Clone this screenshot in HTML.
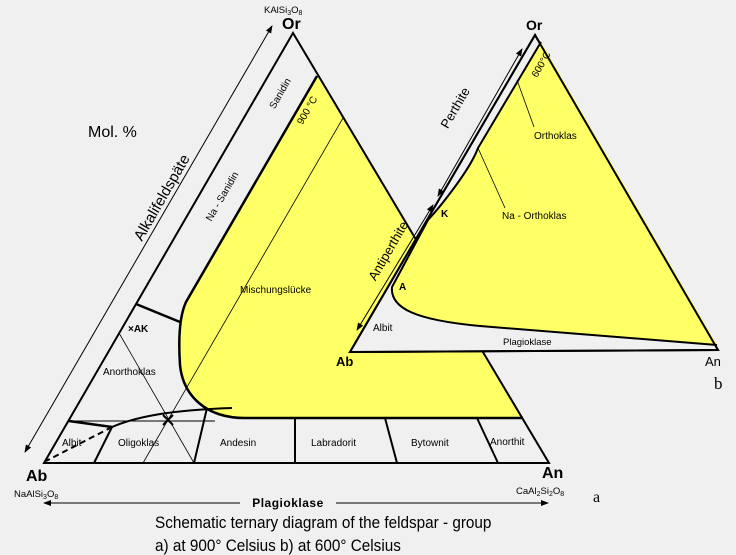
<!DOCTYPE html>
<html><head><meta charset="utf-8"><style>
html,body{margin:0;padding:0;background:#f0f0f0;}
svg{display:block;font-family:"Liberation Sans",sans-serif;}
</style></head><body>
<svg width="736" height="555" viewBox="0 0 736 555" xmlns="http://www.w3.org/2000/svg">
<defs>
<marker id="ah" markerWidth="8" markerHeight="6" refX="7" refY="3" orient="auto"><path d="M0,0 L8,3 L0,6 Z" fill="#000"/></marker>
<marker id="as" markerWidth="8" markerHeight="6" refX="1" refY="3" orient="auto"><path d="M8,0 L0,3 L8,6 Z" fill="#000"/></marker>
</defs>
<rect width="736" height="555" fill="#f0f0f0"/>
<!-- Triangle a -->
<path d="M317,76 L186,302 C180,315 178,335 180,365 C183,395 205,418 245,418 L523,418 Z" fill="#ffff66"/>
<path d="M317,76 L186,302 C180,315 178,335 180,365 C183,395 205,418 245,418 L523,418" fill="none" stroke="#000" stroke-width="2.5"/>
<path d="M293,33 L44,463 L549,463 Z" fill="none" stroke="#000" stroke-width="2"/>
<!-- alkali arrow -->
<line x1="25" y1="452" x2="272" y2="26" stroke="#000" stroke-width="1" marker-start="url(#as)" marker-end="url(#ah)"/>
<!-- internal lines a -->
<line x1="69" y1="421" x2="215" y2="421" stroke="#000" stroke-width="1"/>
<path d="M69,421 L112,427" stroke="#000" stroke-width="2.5"/>
<path d="M112,427 L46,461" stroke="#000" stroke-width="2" stroke-dasharray="6,4"/>
<path d="M112,427 C135,417 170,410 232,408" fill="none" stroke="#000" stroke-width="2"/>
<path d="M112,427 L94,463 M207,408 L194,463 M295,418 L295,463 M385,418 L397,463 M477,418 L498,463" stroke="#000" stroke-width="2"/>
<line x1="136" y1="304" x2="180" y2="322" stroke="#000" stroke-width="2.5"/>
<line x1="119" y1="333" x2="194" y2="463" stroke="#000" stroke-width="0.8"/>
<line x1="343" y1="118" x2="143" y2="463" stroke="#000" stroke-width="0.8"/>
<path d="M163,415 L173,425 M173,415 L163,425" stroke="#000" stroke-width="2"/>
<!-- Triangle b -->
<path d="M535,35 L350,352 L718,350 Z" fill="#f0f0f0" stroke="#000" stroke-width="2"/>
<path d="M541,42 L717,345 L480,326 C415,320 390,308 392,287 L428,220 C440,207 470,170 478,148 Z" fill="#ffff66"/>
<path d="M717,345 L480,326 C415,320 390,308 392,287 L428,220 C440,207 470,170 478,148 L541,42" fill="none" stroke="#000" stroke-width="2"/>
<path d="M535,35 L350,352 L718,350 Z" fill="none" stroke="#000" stroke-width="2"/>
<line x1="522" y1="49" x2="438" y2="196" stroke="#000" stroke-width="1" marker-start="url(#as)" marker-end="url(#ah)"/>
<line x1="433" y1="205" x2="357" y2="330" stroke="#000" stroke-width="1" marker-start="url(#as)" marker-end="url(#ah)"/>
<line x1="534" y1="127" x2="517" y2="80" stroke="#000" stroke-width="0.8"/>
<line x1="505" y1="208" x2="478" y2="148" stroke="#000" stroke-width="0.8"/>
<!-- Plagioklase arrow -->
<line x1="240" y1="503" x2="44" y2="503" stroke="#000" stroke-width="1" marker-end="url(#ah)"/>
<line x1="336" y1="503" x2="548" y2="503" stroke="#000" stroke-width="1" marker-end="url(#ah)"/>
<!-- labels a -->
<g font-size="9.5" fill="#000">
<text x="264" y="13">KAlSi<tspan font-size="7" dy="2">3</tspan><tspan dy="-2">O</tspan><tspan font-size="7" dy="2">8</tspan></text>
<text x="14" y="497">NaAlSi<tspan font-size="7" dy="2">3</tspan><tspan dy="-2">O</tspan><tspan font-size="7" dy="2">8</tspan></text>
<text x="516" y="494">CaAl<tspan font-size="7" dy="2">2</tspan><tspan dy="-2">Si</tspan><tspan font-size="7" dy="2">2</tspan><tspan dy="-2">O</tspan><tspan font-size="7" dy="2">8</tspan></text>
</g>
<g font-weight="bold" font-size="16" fill="#000">
<text x="282" y="29">Or</text>
<text x="26" y="481">Ab</text>
<text x="542" y="478">An</text>
</g>
<text x="88" y="137" font-size="16">Mol. %</text>
<text x="288" y="507" font-size="12" font-weight="bold" text-anchor="middle" style="letter-spacing:0.5px">Plagioklase</text>
<text x="166" y="200" font-size="15" text-anchor="middle" transform="rotate(-60 166 200)">Alkalifeldspäte</text>
<text x="283" y="95" font-size="10" text-anchor="middle" transform="rotate(-60 283 95)">Sanidin</text>
<text x="225" y="198" font-size="10" text-anchor="middle" transform="rotate(-60 225 198)">Na - Sanidin</text>
<text x="310" y="112" font-size="10" text-anchor="middle" transform="rotate(-60 310 112)">900 °C</text>
<g font-size="10" fill="#000">
<text x="240" y="293">Mischungslücke</text>
<text x="128" y="332" font-weight="bold">×AK</text>
<text x="103" y="375">Anorthoklas</text>
<text x="62" y="446">Albit</text>
<text x="118" y="446">Oligoklas</text>
<text x="220" y="446">Andesin</text>
<text x="311" y="446">Labradorit</text>
<text x="411" y="446">Bytownit</text>
<text x="490" y="445">Anorthit</text>
</g>
<text x="593" y="502" font-size="16" font-family="Liberation Serif, serif">a</text>
<!-- labels b -->
<text x="526" y="30" font-size="14" font-weight="bold">Or</text>
<text x="336" y="366" font-size="13" font-weight="bold">Ab</text>
<text x="705" y="366" font-size="13">An</text>
<text x="714" y="389" font-size="17" font-family="Liberation Serif, serif">b</text>
<text x="544" y="66" font-size="10" text-anchor="middle" transform="rotate(-60 544 66)">600°C</text>
<text x="459" y="110" font-size="13" text-anchor="middle" transform="rotate(-60 459 110)">Perthite</text>
<text x="392" y="253" font-size="13" text-anchor="middle" transform="rotate(-60 392 253)">Antiperthite</text>
<g font-size="10">
<text x="534" y="139">Orthoklas</text>
<text x="502" y="219">Na - Orthoklas</text>
<text x="441" y="217" font-weight="bold">K</text>
<text x="399" y="290" font-weight="bold">A</text>
<text x="373" y="331">Albit</text>
<text x="503" y="345" font-size="9.5">Plagioklase</text>
</g>
<!-- caption -->
<g font-size="17" transform="translate(155,0) scale(0.9,1)">
<text x="0" y="528">Schematic ternary diagram of the feldspar - group</text>
<text x="0" y="551">a) at 900° Celsius  b) at 600° Celsius</text>
</g>
</svg>
</body></html>
